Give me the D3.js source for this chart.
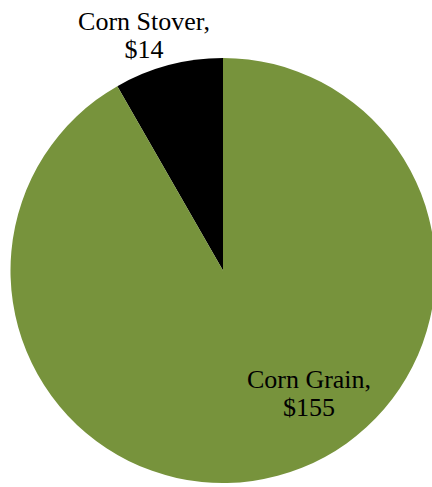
<!DOCTYPE html>
<html>
<head>
<meta charset="utf-8">
<script src="https://cdn.jsdelivr.net/npm/d3@7"></script>
<style>
  html, body { margin: 0; padding: 0; background: #fff; }
  svg { display: block; }
</style>
</head>
<body>
<svg id="chart" width="432" height="487"></svg>
<script>
const categories = ["Corn Stover", "Corn Grain"];
const values = [14, 155];
const colors = ["#000000", "#77933C"];

const width = 432, height = 487;
const cx = 223, cy = 270.5, radius = 212.5;

const svg = d3.select("#chart");
const g = svg.append("g").attr("transform", `translate(${cx},${cy})`);

const total = d3.sum(values);
// Stover slice ends at 12 o'clock; grain continues clockwise from there.
const start = -2 * Math.PI * values[0] / total;
const pieData = d3.pie().sort(null).value(d => d)
  .startAngle(start)
  .endAngle(start + 2 * Math.PI)(values);

const arc = d3.arc().innerRadius(0).outerRadius(radius);

g.selectAll("path.slice")
  .data(pieData)
  .join("path")
  .attr("class", "slice")
  .attr("d", arc)
  .attr("fill", (d, i) => colors[i]);

// Data labels: category and dollar value on two lines
const labelPos = [
  { x: 144 - cx, y: 30 - cy },
  { x: 309 - cx, y: 388 - cy }
];
const lineGap = 28;

g.selectAll("text.label")
  .data(pieData)
  .join("text")
  .attr("class", "label")
  .attr("text-anchor", "middle")
  .style("font-family", "'Times New Roman', 'Liberation Serif', Tinos, serif")
  .style("font-size", "26px")
  .attr("fill", "#000")
  .each(function (d, i) {
    const t = d3.select(this);
    t.append("tspan").attr("x", labelPos[i].x).attr("y", labelPos[i].y)
      .text(categories[i] + ",");
    t.append("tspan").attr("x", labelPos[i].x).attr("y", labelPos[i].y + lineGap)
      .text("$" + d.data);
  });
</script>
</body>
</html>
